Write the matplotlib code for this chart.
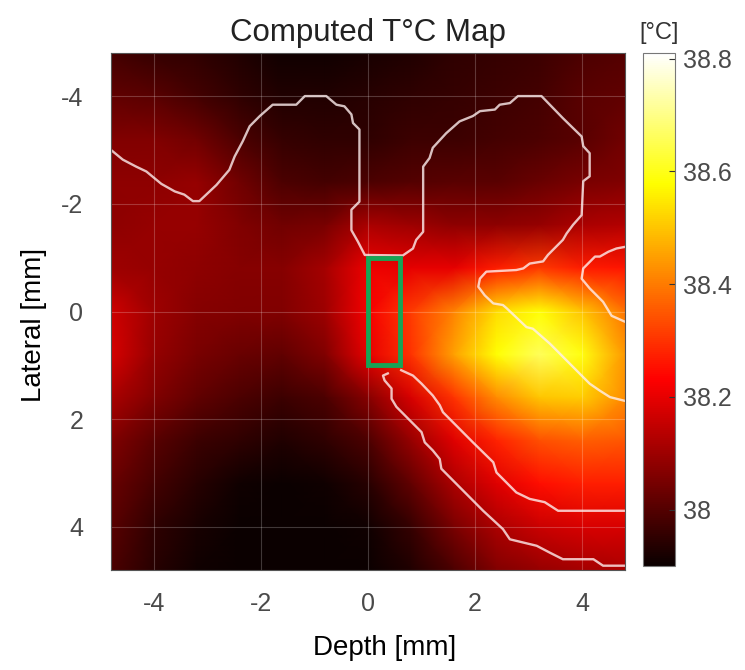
"""Computed temperature map with tissue boundaries and probe outline."""

from __future__ import annotations

import matplotlib

matplotlib.use("Agg")
import matplotlib.pyplot as plt
from matplotlib.patches import Rectangle

# grid nodes (mm) and temperature (deg C)
DEPTH_MM = [-4.8, -4.0, -3.2, -2.4, -1.6, -0.8, 0.0, 0.8, 1.6, 2.4, 3.2, 4.0, 4.8]
LATERAL_MM = [-4.8, -4.0, -3.2, -2.4, -1.6, -0.8, 0.0, 0.8, 1.6, 2.4, 3.2, 4.0, 4.8]
TEMP_C = [
    [37.98, 37.96, 37.95, 37.93, 37.91, 37.91, 37.92, 37.93, 37.95, 37.96, 37.97, 37.99, 38.00],
    [38.02, 38.01, 37.98, 37.95, 37.93, 37.93, 37.94, 37.95, 37.96, 37.97, 37.98, 38.01, 38.02],
    [38.06, 38.06, 38.04, 37.99, 37.96, 37.95, 37.95, 37.97, 37.97, 37.98, 37.99, 38.01, 38.04],
    [38.08, 38.08, 38.09, 38.04, 37.99, 37.98, 37.99, 38.00, 38.01, 38.01, 38.03, 38.05, 38.06],
    [38.08, 38.09, 38.09, 38.06, 38.04, 38.05, 38.12, 38.10, 38.08, 38.08, 38.09, 38.12, 38.13],
    [38.10, 38.09, 38.08, 38.07, 38.07, 38.11, 38.21, 38.20, 38.20, 38.27, 38.31, 38.27, 38.26],
    [38.17, 38.10, 38.07, 38.06, 38.06, 38.10, 38.22, 38.31, 38.41, 38.53, 38.58, 38.50, 38.39],
    [38.18, 38.09, 38.05, 38.03, 38.02, 38.06, 38.20, 38.30, 38.45, 38.58, 38.66, 38.59, 38.44],
    [38.12, 38.06, 38.02, 37.99, 37.97, 37.99, 38.07, 38.18, 38.30, 38.42, 38.50, 38.51, 38.42],
    [38.06, 38.01, 37.97, 37.95, 37.93, 37.95, 37.99, 38.09, 38.19, 38.28, 38.34, 38.36, 38.35],
    [38.03, 37.98, 37.94, 37.91, 37.90, 37.91, 37.94, 38.02, 38.12, 38.19, 38.25, 38.27, 38.27],
    [38.01, 37.95, 37.92, 37.90, 37.90, 37.90, 37.91, 37.96, 38.05, 38.12, 38.16, 38.18, 38.18],
    [37.99, 37.94, 37.91, 37.90, 37.90, 37.90, 37.90, 37.93, 37.99, 38.06, 38.09, 38.11, 38.12],
]

# tissue boundary traces (mm)
UPPER_X = [-4.80, -4.58, -4.33, -4.14, -3.86, -3.61, -3.43, -3.27, -3.15, -2.83, -2.59, -2.49,
           -2.34, -2.21, -2.02, -1.78, -1.34, -1.18, -0.78, -0.59, -0.44, -0.31, -0.28, -0.16,
           -0.16, -0.31, -0.31, -0.19, -0.06, 0.65, 0.84, 0.90, 1.03, 1.03, 1.15, 1.21, 1.46,
           1.71, 1.96, 2.09, 2.37, 2.46, 2.65, 2.80, 3.24, 3.64, 3.99, 4.02, 4.14, 4.14, 4.02,
           3.99, 3.83, 3.71, 3.64, 3.36, 3.27, 3.02, 2.90, 2.77, 2.21, 2.09, 2.06, 2.18, 2.34,
           2.52, 2.59, 2.96, 3.08, 3.40, 3.58, 3.83, 4.14, 4.33, 4.52, 4.80]
UPPER_Y = [-3.00, -2.82, -2.69, -2.60, -2.37, -2.23, -2.17, -2.05, -2.05, -2.35, -2.63, -2.88,
           -3.16, -3.44, -3.63, -3.84, -3.84, -4.00, -4.00, -3.84, -3.81, -3.66, -3.50, -3.38,
           -2.04, -1.89, -1.51, -1.30, -1.05, -1.04, -1.17, -1.33, -1.48, -2.69, -2.85, -3.04,
           -3.31, -3.53, -3.63, -3.72, -3.75, -3.84, -3.87, -4.00, -4.00, -3.59, -3.25, -3.07,
           -2.94, -2.51, -2.42, -1.79, -1.61, -1.45, -1.33, -1.05, -0.93, -0.89, -0.80, -0.77,
           -0.74, -0.61, -0.46, -0.30, -0.15, -0.12, -0.06, 0.29, 0.32, 0.60, 0.78, 1.03, 1.34,
           1.47, 1.59, 1.66]
RIGHT_X = [4.80, 4.64, 4.49, 4.33, 4.24, 4.02, 3.99, 4.14, 4.39, 4.55, 4.80]
RIGHT_Y = [-1.20, -1.17, -1.11, -1.02, -1.02, -0.80, -0.61, -0.43, -0.18, 0.08, 0.19]
INNER_X = [0.62, 0.84, 1.00, 1.21, 1.34, 1.40, 1.65, 1.96, 2.34, 2.40, 2.77, 3.02, 3.30, 3.55, 4.80]
INNER_Y = [1.09, 1.19, 1.34, 1.56, 1.74, 1.87, 2.12, 2.43, 2.80, 2.99, 3.36, 3.48, 3.54, 3.70, 3.70]
OUTER_X = [0.37, 0.28, 0.31, 0.44, 0.44, 0.53, 0.78, 1.00, 1.06, 1.21, 1.34, 1.37, 1.78, 2.15,
           2.52, 2.65, 2.90, 3.15, 3.40, 3.64, 4.21, 4.39, 4.80]
OUTER_Y = [1.15, 1.19, 1.28, 1.43, 1.62, 1.77, 2.02, 2.24, 2.43, 2.58, 2.74, 2.92, 3.33, 3.70,
           4.04, 4.23, 4.29, 4.35, 4.48, 4.60, 4.60, 4.72, 4.72]

# probe outline: corner and size (mm)
PROBE_XY = (0.0, -1.0)
PROBE_W = 0.6
PROBE_H = 2.0

TICKS = [-4, -2, 0, 2, 4]
CBAR_TICKS = [38.0, 38.2, 38.4, 38.6, 38.8]
CLIM = (37.9, 38.81)
LIMITS = (-4.8, 4.8)

TEXT_GREY = "#4a4a4a"


def main() -> None:
    plt.rcParams["font.family"] = ["Liberation Sans", "DejaVu Sans"]
    plt.rcParams["axes.unicode_minus"] = False

    fig = plt.figure(figsize=(7.45, 6.7), dpi=100)
    ax = fig.add_axes([111 / 745, 100 / 670, 514 / 745, 517 / 670])
    cax = fig.add_axes([643 / 745, 104 / 670, 32 / 745, 513 / 670])

    mesh = ax.pcolormesh(DEPTH_MM, LATERAL_MM, TEMP_C, shading="gouraud",
                         cmap="hot", vmin=CLIM[0], vmax=CLIM[1])

    line_kw = dict(color="#fff0f0", alpha=0.8, lw=1.7, solid_joinstyle="round")
    ax.plot(UPPER_X, UPPER_Y, **line_kw)
    ax.plot(RIGHT_X, RIGHT_Y, **line_kw)
    ax.plot(INNER_X, INNER_Y, **line_kw)
    ax.plot(OUTER_X, OUTER_Y, **line_kw)

    ax.add_patch(Rectangle(PROBE_XY, PROBE_W, PROBE_H, fill=False,
                           edgecolor="#17a455", lw=3.5, zorder=5))

    ax.set_xlim(*LIMITS)
    ax.set_ylim(LIMITS[1], LIMITS[0])
    ax.set_xticks(TICKS)
    ax.set_yticks(TICKS)
    ax.grid(True, color="white", alpha=0.22, lw=0.8)
    ax.tick_params(length=0, labelsize=18, labelcolor=TEXT_GREY)
    ax.tick_params(axis="x", pad=16)
    ax.tick_params(axis="y", pad=20)
    for spine in ax.spines.values():
        spine.set_color("#555555")
        spine.set_linewidth(0.8)

    ax.set_title("Computed T°C Map", fontsize=22.5, color="#222222", pad=9)
    ax.set_xlabel("Depth [mm]", fontsize=20, color="black")
    ax.set_ylabel("Lateral [mm]", fontsize=20, color="black")
    ax.xaxis.set_label_coords(0.533, -0.126)
    ax.yaxis.set_label_coords(-0.125, 0.474)

    cbar = fig.colorbar(mesh, cax=cax, ticks=CBAR_TICKS)
    cbar.ax.set_yticklabels(["38", "38.2", "38.4", "38.6", "38.8"])
    cbar.ax.tick_params(direction="in", length=4, width=0.8, color="#333333",
                        labelsize=18, labelcolor=TEXT_GREY, pad=6)
    cbar.outline.set_edgecolor("#777777")
    cbar.outline.set_linewidth(0.8)
    cbar.ax.set_title("[°C]", fontsize=17, color="#333333", pad=10)

    fig.savefig("out.png", dpi=100)
    plt.close(fig)


if __name__ == "__main__":
    main()
